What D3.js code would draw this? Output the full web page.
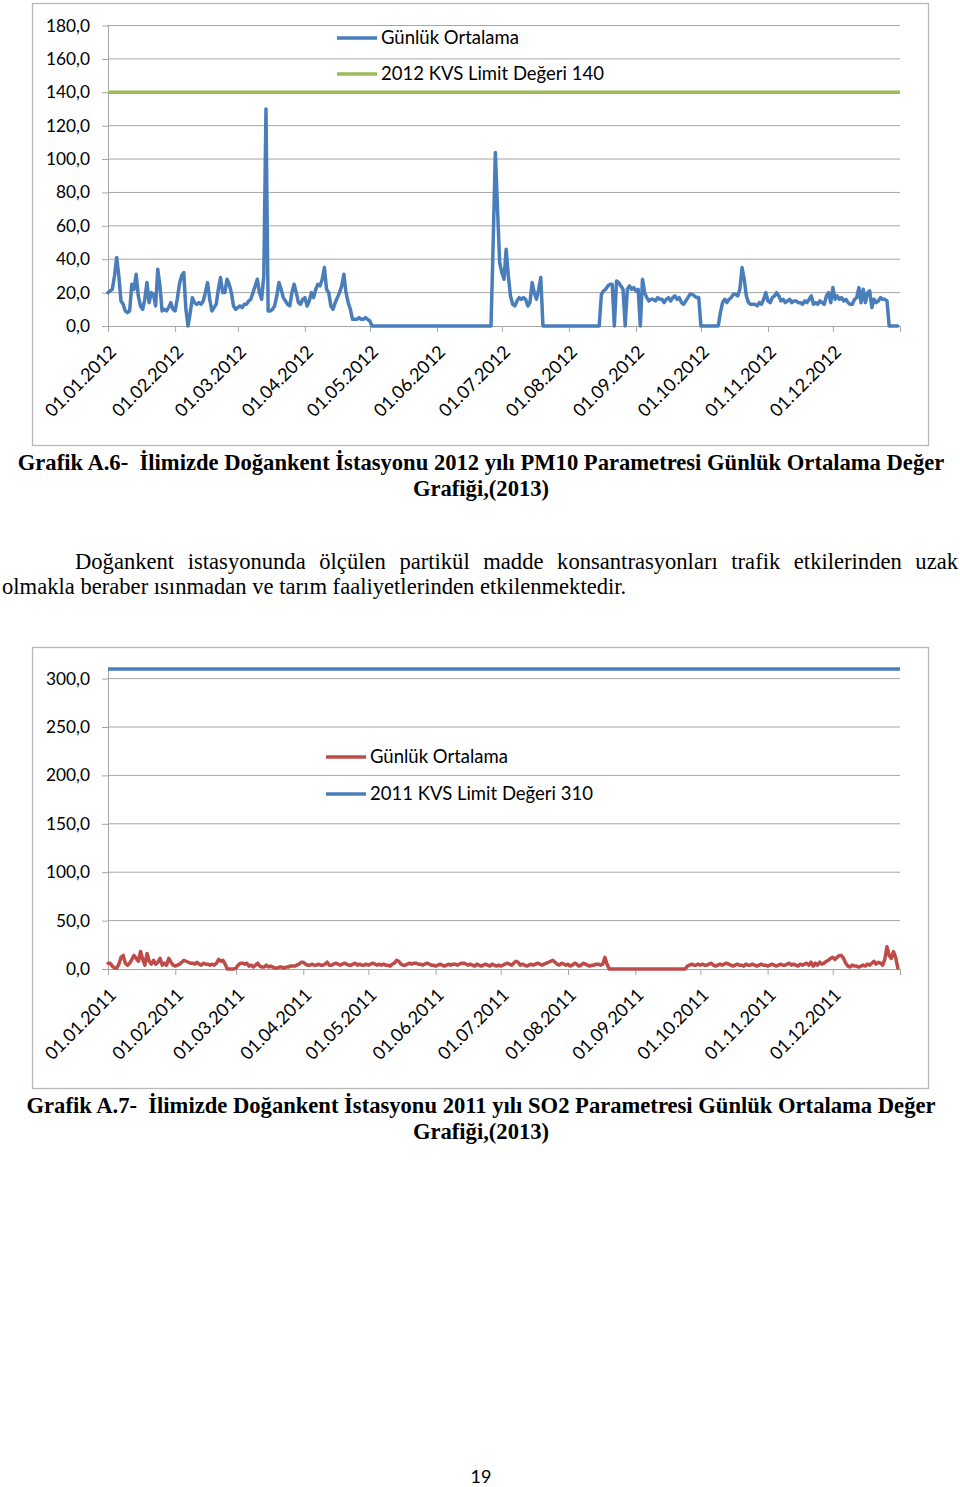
<!DOCTYPE html>
<html><head><meta charset="utf-8">
<script src="https://cdn.jsdelivr.net/npm/d3@7"></script>
<style>
html,body{margin:0;padding:0;background:#fff;}
svg{display:block;}
</style>
</head><body>
<svg id="page" width="960" height="1487"></svg>
<script>
// ---------- DATA ----------
const pm10Year = 2012;
const pm10Values = [
  // Jan
  20,21,22,30,41,30,15,13,9,8,9,25,22,31,18,12,10,16,26,14,20,19,12,34,24,9,10,9,11,14,10,
  // Feb
  9,16,25,30,32,10,0,8,17,14,13,14,13,15,20,26,16,9,11,13,22,29,20,20,28,25,20,12,10,
  // Mar
  11,12,11,13,13,15,16,20,24,28,20,16,30,130,9,9,10,12,18,26,22,17,15,13,12,20,25,20,14,13,16,
  // Apr
  17,12,15,20,17,22,25,24,28,35,22,20,12,10,14,17,20,24,31,20,14,10,4,4,4,5,4,4,5,4,
  // May
  3,0,0,0,0,0,0,0,0,0,0,0,0,0,0,0,0,0,0,0,0,0,0,0,0,0,0,0,0,0,0,
  // Jun
  0,0,0,0,0,0,0,0,0,0,0,0,0,0,0,0,0,0,0,0,0,0,0,0,0,0,50,104,70,38,
  // Jul
  32,28,46,30,18,13,12,15,17,16,17,16,12,14,26,20,16,22,29,0,0,0,0,0,0,0,0,0,0,0,0,
  // Aug
  0,0,0,0,0,0,0,0,0,0,0,0,0,0,0,19,21,22,24,25,25,0,27,26,24,22,0,22,24,22,23,
  // Sep
  21,22,0,28,20,17,15,16,16,15,17,16,16,14,16,17,15,17,18,16,17,14,13,15,17,19,19,18,17,17,
  // Oct
  0,0,0,0,0,0,0,0,0,8,14,16,14,16,17,19,19,18,22,35,28,18,14,13,13,13,12,14,13,16,20,
  // Nov
  15,14,17,18,20,18,15,16,14,15,16,14,15,15,14,14,13,15,14,16,18,13,14,13,15,14,13,18,20,14,
  // Dec
  23,16,18,16,17,15,16,14,13,13,16,17,23,14,22,14,20,21,11,16,14,15,17,16,16,15,0,0,0,0,0
];
const pm10Limit = 140;
const pm10YTicks = [0,20,40,60,80,100,120,140,160,180];
const pm10Legend = ["Günlük Ortalama", "2012 KVS Limit Değeri 140"];

const so2Year = 2011;
const so2Values = [
  // Jan
  6,6,3,1,1,5,12,14,6,4,6,10,14,11,8,18,10,4,16,8,5,9,5,7,11,4,6,4,11,7,4,
  // Feb
  3,4,5,7,9,8,7,6,6,5,7,5,4,6,5,5,4,5,4,6,10,8,9,5,0,0,0,0,
  // Mar
  1,4,6,6,5,6,3,4,2,4,6,3,2,2,4,2,3,2,1,1,2,2,1,2,2,3,3,3,4,5,7,
  // Apr
  7,5,4,4,5,4,4,5,4,4,5,7,4,4,5,6,5,4,5,6,5,4,4,5,6,4,5,4,4,5,
  // May
  4,5,6,5,4,5,4,5,4,4,3,5,6,9,8,5,4,4,5,6,5,6,6,5,5,4,5,6,5,4,4,
  // Jun
  3,4,5,4,3,4,5,4,5,5,4,5,6,6,5,4,5,4,3,5,4,3,4,5,4,3,5,4,3,4,
  // Jul
  3,4,5,6,5,4,6,8,7,4,5,4,3,4,5,4,5,6,5,4,5,6,7,8,9,7,5,4,6,5,4,
  // Aug
  5,3,4,6,5,3,4,6,5,4,3,4,4,5,5,4,5,12,5,0,0,0,0,0,0,0,0,0,0,0,0,
  // Sep
  0,0,0,0,0,0,0,0,0,0,0,0,0,0,0,0,0,0,0,0,0,0,0,0,3,4,5,4,4,5,
  // Oct
  4,5,4,4,5,6,4,3,4,5,4,5,6,5,4,3,4,5,4,4,3,5,4,4,5,4,3,4,5,4,4,
  // Nov
  3,4,5,4,3,4,5,4,4,5,6,4,5,4,3,5,4,5,6,4,7,3,6,4,7,5,6,8,9,11,
  // Dec
  12,10,12,14,14,11,6,3,2,4,3,3,2,3,4,3,5,4,6,8,5,7,6,4,10,23,14,11,18,12,1
];
const so2Limit = 310;
const so2YTicks = [0,50,100,150,200,250,300];
const so2Legend = ["Günlük Ortalama", "2011 KVS Limit Değeri 310"];

const caption1 = ["Grafik A.6-  İlimizde Doğankent İstasyonu 2012 yılı PM10 Parametresi Günlük Ortalama Değer", "Grafiği,(2013)"];
const paragraph = ["Doğankent istasyonunda ölçülen partikül madde konsantrasyonları trafik etkilerinden uzak", "olmakla beraber ısınmadan ve tarım faaliyetlerinden etkilenmektedir."];
const caption2 = ["Grafik A.7-  İlimizde Doğankent İstasyonu 2011 yılı SO2 Parametresi Günlük Ortalama Değer", "Grafiği,(2013)"];
const pageNumber = "19";

// ---------- DRAW ----------
const svg = d3.select("#page");
svg.append("rect").attr("width",960).attr("height",1487).attr("fill","#fff");

const sansFont = "Lato, 'Open Sans', sans-serif";
const serifFont = "'Liberation Serif', 'Times New Roman', serif";
const serifSize = 22.6;
const gridColor = "#a6a6a6";
const fmtComma = d => d3.format(".1f")(d).replace(".", ",");
const fmtDate = d3.timeFormat("%d.%m.%Y");

function drawChart(o) {
  const g = svg.append("g");
  g.append("rect").attr("x", o.frame[0]).attr("y", o.frame[1]).attr("width", o.frame[2]).attr("height", o.frame[3])
    .attr("fill", "#fff").attr("stroke", "#b8b8b8").attr("stroke-width", 1.3);

  const start = new Date(o.year, 0, 1), end = new Date(o.year + 1, 0, 1);
  const x = d3.scaleTime().domain([start, end]).range([o.left, o.right]);
  const y = d3.scaleLinear().domain([0, o.yMax]).range([o.bottom, o.bottom - o.pxPerUnit * o.yMax]);

  // gridlines
  g.append("g").selectAll("line").data(o.yTicks.filter(t => t > 0)).join("line")
    .attr("x1", o.left).attr("x2", o.right).attr("y1", d => y(d)).attr("y2", d => y(d))
    .attr("stroke", gridColor).attr("stroke-width", 1);

  // y axis
  const yAxis = d3.axisLeft(y).tickValues(o.yTicks).tickSize(6).tickSizeOuter(0).tickPadding(12).tickFormat(fmtComma);
  const ya = g.append("g").attr("transform", `translate(${o.left},0)`).call(yAxis);
  ya.select(".domain").attr("stroke", gridColor).attr("stroke-width", 1)
    .attr("d", `M0.5,${y(o.yMax)}V${o.bottom}`);
  ya.selectAll(".tick line").attr("stroke", gridColor);
  ya.selectAll(".tick text").attr("font-family", sansFont).attr("font-size", 17.3).attr("fill", "#000");

  // x axis
  const months = d3.timeMonth.range(start, d3.timeDay.offset(end, 1));
  const xAxis = d3.axisBottom(x).tickValues(months).tickSize(6).tickSizeOuter(0).tickFormat(d => d < end ? fmtDate(d) : "");
  const xa = g.append("g").attr("transform", `translate(0,${o.bottom})`).call(xAxis);
  xa.select(".domain").attr("stroke", gridColor).attr("stroke-width", 1);
  xa.selectAll(".tick line").attr("stroke", gridColor);
  xa.selectAll(".tick text").attr("font-family", sansFont).attr("font-size", 18).attr("fill", "#000")
    .attr("text-anchor", "end").attr("dy", null).attr("y", null)
    .attr("transform", "translate(9,27) rotate(-45)");

  // limit line
  g.append("line").attr("x1", o.left).attr("x2", o.right).attr("y1", y(o.limit)).attr("y2", y(o.limit))
    .attr("stroke", o.limitColor).attr("stroke-width", 3.5);

  // data line
  const pts = o.values.map((v, i) => ({ date: d3.timeDay.offset(start, i), v }));
  g.append("path").datum(pts)
    .attr("fill", "none").attr("stroke", o.lineColor).attr("stroke-width", 3.5)
    .attr("stroke-linejoin", "round").attr("stroke-linecap", "round")
    .attr("d", d3.line().x(d => x(d.date)).y(d => y(d.v)));

  // legend
  o.legend.forEach((L, i) => {
    const ly = o.legendY[i];
    g.append("line").attr("x1", o.legendX).attr("x2", o.legendX + 40).attr("y1", ly).attr("y2", ly)
      .attr("stroke", L.color).attr("stroke-width", 3.5);
    g.append("text").attr("x", o.legendX + 44).attr("y", ly + 6).text(L.label)
      .attr("font-family", sansFont).attr("font-size", 18.5).attr("fill", "#000");
  });
}

const blue = "#4a7ebb", green = "#9bbb59", red = "#be4b48";

drawChart({
  frame: [32.5, 3.5, 896, 442], year: pm10Year, values: pm10Values,
  left: 108, right: 900, bottom: 326, yMax: 180, pxPerUnit: 300.5 / 180,
  yTicks: pm10YTicks, limit: pm10Limit, lineColor: blue, limitColor: green,
  legendX: 337, legendY: [38, 74],
  legend: [{ label: pm10Legend[0], color: blue }, { label: pm10Legend[1], color: green }]
});

drawChart({
  frame: [32.5, 647.5, 896, 441], year: so2Year, values: so2Values,
  left: 108, right: 900, bottom: 969, yMax: 310, pxPerUnit: 290.4 / 300,
  yTicks: so2YTicks, limit: so2Limit, lineColor: red, limitColor: blue,
  legendX: 326, legendY: [757, 794],
  legend: [{ label: so2Legend[0], color: red }, { label: so2Legend[1], color: blue }]
});

// text blocks
function centered(lines, ys, bold) {
  lines.forEach((t, i) => svg.append("text").attr("x", 481).attr("y", ys[i]).attr("text-anchor", "middle")
    .attr("font-family", serifFont).attr("font-size", serifSize).attr("font-weight", bold ? "bold" : "normal")
    .attr("fill", "#000").attr("xml:space", "preserve").style("white-space", "pre").text(t));
}
centered(caption1, [470, 496], true);
centered(caption2, [1113, 1139], true);

// justified first paragraph line
(function () {
  const words = paragraph[0].split(" ");
  const x0 = 75, x1 = 958, yy = 569;
  const nodes = words.map(w => svg.append("text").attr("y", yy).attr("font-family", serifFont)
    .attr("font-size", serifSize).attr("fill", "#000").text(w));
  const widths = nodes.map(n => n.node().getComputedTextLength());
  const gap = (x1 - x0 - d3.sum(widths)) / (words.length - 1);
  let cx = x0;
  nodes.forEach((n, i) => { n.attr("x", cx); cx += widths[i] + gap; });
  svg.append("text").attr("x", 2).attr("y", 594).attr("font-family", serifFont).attr("font-size", serifSize)
    .attr("fill", "#000").text(paragraph[1]);
})();

svg.append("text").attr("x", 481).attr("y", 1483).attr("text-anchor", "middle")
  .attr("font-family", sansFont).attr("font-size", 18).attr("fill", "#000").text(pageNumber);
</script>
</body></html>
